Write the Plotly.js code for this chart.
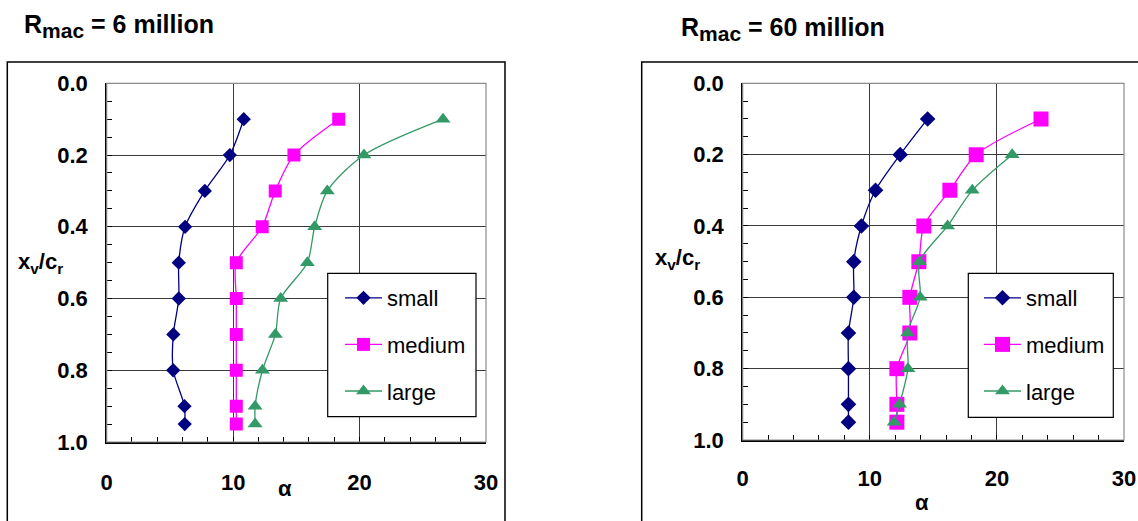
<!DOCTYPE html>
<html>
<head>
<meta charset="utf-8">
<script src="https://cdn.plot.ly/plotly-3.0.1.min.js"></script>
<style>html,body{margin:0;padding:0;background:#fff;}#chart{width:1138px;height:521px;}</style>
</head>
<body>
<div id="chart"></div>
<script>
// ---- data ----
const positions = [0.1, 0.2, 0.3, 0.4, 0.5, 0.6, 0.7, 0.8, 0.9, 0.95];
const positionsLarge60 = [0.2, 0.3, 0.4, 0.5, 0.6, 0.7, 0.8, 0.9, 0.95];
const small6 = [10.84, 9.74, 7.76, 6.2, 5.7, 5.7, 5.27, 5.26, 6.15, 6.17];
const medium6 = [18.35, 14.81, 13.33, 12.3, 10.25, 10.25, 10.25, 10.25, 10.25, 10.25];
const large6 = [26.6, 20.35, 17.45, 16.45, 15.87, 13.76, 13.34, 12.32, 11.74, 11.74];
const small60 = [14.55, 12.39, 10.45, 9.34, 8.74, 8.74, 8.32, 8.32, 8.32, 8.32];
const medium60 = [23.47, 18.37, 16.3, 14.25, 13.86, 13.15, 13.15, 12.13, 12.13, 12.13];
const large60 = [21.2, 18.06, 16.12, 13.91, 13.96, 12.97, 13.0, 12.34, 11.92];
const seriesNames = ['small', 'medium', 'large'];
const xTicks = [0, 10, 20, 30];
const yTicks = [0.0, 0.2, 0.4, 0.6, 0.8, 1.0];

const W = 1138, H = 521;
const FONT = 'Liberation Sans, Arial, sans-serif';
const colors = ['#000080', '#FF00FF', '#339966'];
const symbols = ['diamond', 'square', 'triangle-up'];
const sizesLeft = [11, 13, 13];
const sizesRight = [12, 15, 13];

function px(x) { return x / W; }
function py(y) { return 1 - y / H; }

function mk(x, y, i, xa, ya, leg, grp, sizes) {
  return {
    type: 'scatter', mode: 'lines+markers', x: x, y: y, name: seriesNames[i],
    xaxis: xa, yaxis: ya, legend: leg, legendgroup: grp,
    line: {color: colors[i], width: 1.3, shape: 'spline', smoothing: 0.8},
    marker: {symbol: symbols[i], size: sizes[i], color: colors[i], line: {width: 0}},
    hoverinfo: 'x+y'
  };
}

const traces = [
  mk(small6, positions, 0, 'x', 'y', 'legend', 'a', sizesLeft),
  mk(medium6, positions, 1, 'x', 'y', 'legend', 'b', sizesLeft),
  mk(large6, positions, 2, 'x', 'y', 'legend', 'c', sizesLeft),
  mk(small60, positions, 0, 'x2', 'y2', 'legend2', 'a2', sizesRight),
  mk(medium60, positions, 1, 'x2', 'y2', 'legend2', 'b2', sizesRight),
  mk(large60, positionsLarge60, 2, 'x2', 'y2', 'legend2', 'c2', sizesRight)
];

function xaxisDef(domain, anchor, standoff) {
  return {
    domain: domain, anchor: anchor, range: [0, 30], tickvals: xTicks, ticktext: xTicks.map(String),
    showgrid: true, gridcolor: '#3a3a3a', gridwidth: 1, zeroline: false,
    showline: true, linecolor: '#000', linewidth: 1.5,
    ticks: 'inside', ticklen: 5, tickcolor: '#000', tickwidth: 1,
    minor: {dtick: 2, tick0: 0, ticks: 'inside', ticklen: 5, tickcolor: '#000', tickwidth: 1, showgrid: false},
    tickfont: {family: FONT, size: 22, weight: 'bold', color: '#000'},
    ticklabelstandoff: standoff, fixedrange: true
  };
}
function yaxisDef(domain, anchor) {
  return {
    domain: domain, anchor: anchor, range: [1, 0], tickvals: yTicks, ticktext: yTicks.map(v => v.toFixed(1)),
    showgrid: true, gridcolor: '#3a3a3a', gridwidth: 1, zeroline: false,
    showline: true, linecolor: '#000', linewidth: 1.5,
    ticks: 'inside', ticklen: 5, tickcolor: '#000', tickwidth: 1,
    minor: {dtick: 0.05, tick0: 0, ticks: 'inside', ticklen: 5, tickcolor: '#000', tickwidth: 1, showgrid: false},
    tickfont: {family: FONT, size: 22, weight: 'bold', color: '#000'},
    ticklabelstandoff: 13, fixedrange: true
  };
}

function legendDef(x, y) {
  return {
    x: px(x), y: py(y), xanchor: 'left', yanchor: 'top',
    bgcolor: 'rgba(0,0,0,0)', borderwidth: 0,
    font: {family: FONT, size: 22, color: '#000'},
    itemwidth: 37, traceorder: 'grouped', tracegroupgap: 15
  };
}

const frameShape = (x0, x1) => ({
  type: 'rect', xref: 'paper', yref: 'paper', x0: px(x0), x1: px(x1), y0: py(62), y1: py(540),
  line: {color: '#000', width: 1.5}, fillcolor: 'rgba(0,0,0,0)', layer: 'below'
});
const borderShape = (xr, yr) => ({
  type: 'rect', xref: xr + ' domain', yref: yr + ' domain', x0: 0, x1: 1, y0: 0, y1: 1,
  line: {color: '#8c8c8c', width: 1.2}, fillcolor: 'rgba(0,0,0,0)', layer: 'above'
});
const legendBox = (x0, x1, y0, y1) => ({
  type: 'rect', xref: 'paper', yref: 'paper', x0: px(x0), x1: px(x1), y0: py(y0), y1: py(y1),
  line: {color: '#000', width: 1.2}, fillcolor: '#fff', layer: 'above'
});

const ann = (text, x, y, size, xanchor, yanchor) => ({
  text: text, xref: 'paper', yref: 'paper', x: px(x), y: py(y), showarrow: false,
  xanchor: xanchor || 'left', yanchor: yanchor || 'middle',
  font: {family: FONT, size: size, color: '#000'}
});

const layout = {
  width: W, height: H, margin: {l: 0, r: 0, t: 0, b: 0},
  paper_bgcolor: '#fff', plot_bgcolor: '#fff', showlegend: true,
  xaxis: xaxisDef([px(106.7), px(486)], 'y', 20),
  yaxis: yaxisDef([py(442), py(83.3)], 'x'),
  xaxis2: xaxisDef([px(742.7), px(1124)], 'y2', 18),
  yaxis2: yaxisDef([py(440), py(83.3)], 'x2'),
  legend: legendDef(340, 277),
  legend2: legendDef(979, 277),
  shapes: [
    frameShape(7.3, 505), frameShape(641.7, 1160),
    borderShape('x', 'y'), borderShape('x2', 'y2'),
    legendBox(327.7, 476, 273.3, 416.7), legendBox(968.3, 1113.3, 273.3, 417.3)
  ],
  annotations: [
    ann('<b>R<sub><span style="font-size:21px">mac</span></sub> = 6 million</b>', 22, 26, 25, 'left', 'middle'),
    ann('<b>R<sub><span style="font-size:21px">mac</span></sub> = 60 million</b>', 679, 29, 25, 'left', 'middle'),
    ann('<b>x<sub>v</sub>/c<sub>r</sub></b>', 16, 263, 22, 'left', 'middle'),
    ann('<b>x<sub>v</sub>/c<sub>r</sub></b>', 653, 259, 22, 'left', 'middle'),
    ann('<b>α</b>', 285, 488, 22, 'center', 'middle'),
    ann('<b>α</b>', 922, 502, 22, 'center', 'middle')
  ]
};

Plotly.newPlot('chart', traces, layout, {displayModeBar: false, staticPlot: true});
</script>
</body>
</html>
